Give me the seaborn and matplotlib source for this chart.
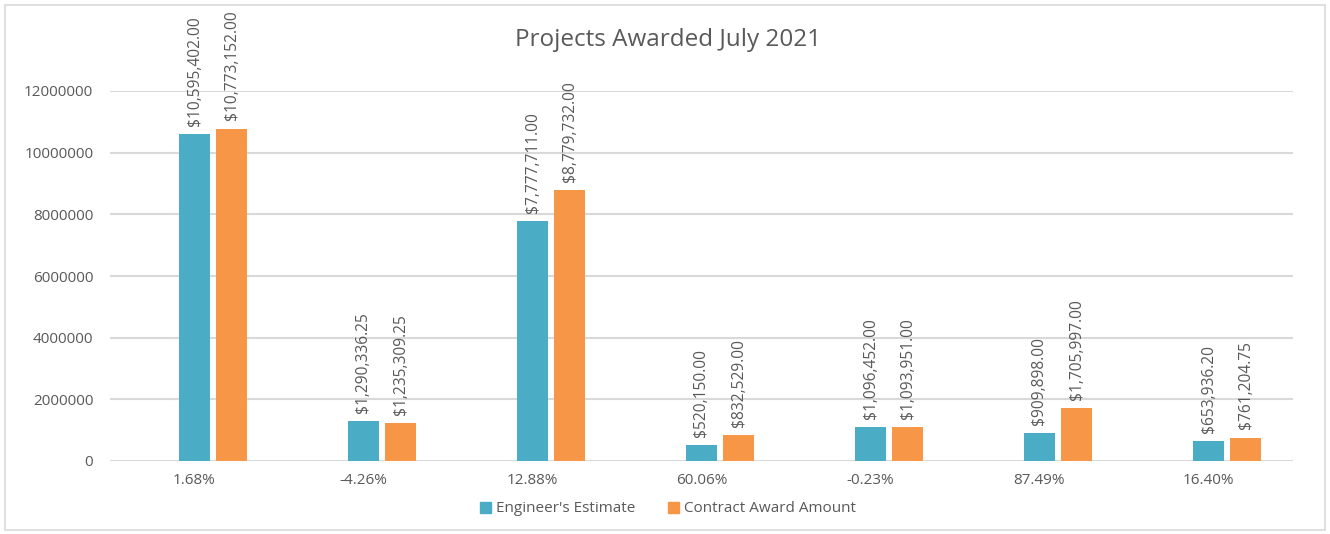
import matplotlib
matplotlib.use("Agg")
import matplotlib.pyplot as plt
import seaborn as sns
import pandas as pd
from matplotlib.patches import Rectangle

categories = ["1.68%", "-4.26%", "12.88%", "60.06%", "-0.23%", "87.49%", "16.40%"]
difference = [0.0168, -0.0426, 0.1288, 0.6006, -0.0023, 0.8749, 0.1640]
engineers_estimate = [10595402.00, 1290336.25, 7777711.00, 520150.00, 1096452.00, 909898.00, 653936.20]
contract_award = [10773152.00, 1235309.25, 8779732.00, 832529.00, 1093951.00, 1705997.00, 761204.75]
series_names = ["Difference", "Engineer's Estimate", "Contract Award Amount"]
colors = ["#FFFFFF00", "#4BACC6", "#F79646"]

rows = []
for name, vals in zip(series_names, [difference, engineers_estimate, contract_award]):
    for c, v in zip(categories, vals):
        rows.append({"category": c, "series": name, "value": v})
df = pd.DataFrame(rows)

sns.set_theme(style="white")
plt.rcParams['font.family'] = ['Open Sans', 'DejaVu Sans']
TXT = "#595959"

fig = plt.figure(figsize=(13.3, 5.34), dpi=100)
ax = fig.add_axes([110/1330, 1-461/534, (1293-110)/1330, (461-91)/534])

sns.barplot(data=df, x="category", y="value", hue="series", order=categories,
            hue_order=series_names, palette=colors, width=0.657, gap=0.17,
            saturation=1, legend=False, ax=ax, errorbar=None, linewidth=0)

ax.set_ylim(0, 12000000)
ax.set_yticks(range(0, 12000001, 2000000))
ax.set_yticklabels([str(v) for v in range(0, 12000001, 2000000)], color=TXT, fontsize=11)
ax.tick_params(axis="x", colors=TXT, labelsize=11, pad=9, length=0)
ax.tick_params(axis="y", colors=TXT, pad=12, length=0)
ax.set_xlabel("")
ax.set_ylabel("")
ax.grid(axis="y", color="#D9D9D9", linewidth=1.5)
ax.set_axisbelow(True)
for s in ax.spines.values():
    s.set_visible(False)
ax.set_xlim(-0.5, len(categories) - 0.5)

# data labels
for cont, name in zip(ax.containers, series_names):
    if name == "Difference":
        continue
    for bar in cont:
        h = bar.get_height()
        ax.annotate(f"${h:,.2f}", (bar.get_x() + bar.get_width() / 2, h),
                    xytext=(0, 6), textcoords="offset points", rotation=90,
                    ha="center", va="bottom", fontsize=11.2, color=TXT,
                    annotation_clip=False)

fig.text(668/1330, 1-40/534, "Projects Awarded July 2021", ha="center", va="center",
         fontsize=17.5, color=TXT)

handles = [Rectangle((0, 0), 1, 1, color=colors[1]), Rectangle((0, 0), 1, 1, color=colors[2])]
fig.legend(handles, series_names[1:], loc="center", bbox_to_anchor=(668/1330, 1-509/534),
           ncol=2, frameon=False, fontsize=11, labelcolor=TXT, handlelength=0.7,
           handleheight=0.7, handletextpad=0.3, columnspacing=2.2)

fig.patches.append(Rectangle((5/1330, 4/534), 1320/1330, 525/534, transform=fig.transFigure,
                             fill=False, edgecolor="#D9D9D9", linewidth=1.2))

fig.savefig("out.png", dpi=100, facecolor="white")
